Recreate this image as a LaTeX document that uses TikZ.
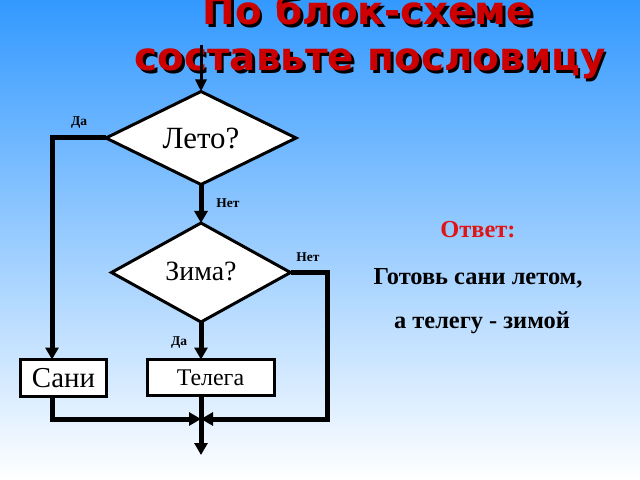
\documentclass[tikz,border=0pt]{standalone}
\usepackage{fontspec}
\setmainfont{Liberation Serif}
\newfontfamily\titlefont{DejaVu Sans}
\usetikzlibrary{shapes.geometric,arrows.meta}
\definecolor{bgtop}{RGB}{51,153,255}
\definecolor{titlered}{RGB}{204,0,0}
\definecolor{ansred}{RGB}{225,20,20}
\begin{document}
\begin{tikzpicture}[x=1bp,y=-1bp,
  decision/.style={diamond,draw=black,fill=white,line width=3bp,aspect=2,inner sep=0pt,outer sep=0pt},
  block/.style={rectangle,draw=black,fill=white,line width=3bp,inner sep=0pt,outer sep=0pt},
  flow/.style={line width=5bp,-{Triangle[length=12bp,width=13bp]}},
  thinflow/.style={line width=3bp,-{Triangle[length=12bp,width=11bp]}},
  lbl/.style={font=\fontsize{13.5}{13.5}\selectfont\bfseries,inner sep=0pt},
  ttl/.style={font=\titlefont\bfseries\fontsize{39}{39}\selectfont,anchor=base,inner sep=0pt},
  ans/.style={font=\fontsize{24.5}{24.5}\selectfont\bfseries,anchor=base,inner sep=0pt}
]
\clip (0,0) rectangle (640,480);
\shade[top color=bgtop,bottom color=white] (0,0) rectangle (640,480);
\useasboundingbox (0,0) rectangle (640,480);

% title with shadow
\node[ttl,text=black] (t1s) at (370.5,27.5) {По блок-схеме};
\node[ttl,text=titlered] (t1) at (368,25) {По блок-схеме};
\node[ttl,text=black] (t2s) at (372.5,73.5) {составьте пословицу};
\node[ttl,text=titlered] (t2) at (370,71) {составьте пословицу};

% nodes
\node[decision,minimum width=190bp,minimum height=93bp,font=\fontsize{31}{31}\selectfont] (leto) at (201,138) {\raisebox{-1bp}{Лето?}};
\node[decision,minimum width=179bp,minimum height=99bp,font=\fontsize{28}{28}\selectfont] (zima) at (201,272.5) {\raisebox{3bp}{Зима?}};
\node[block,minimum width=85bp,minimum height=37bp,font=\fontsize{29}{29}\selectfont] (sani) at (63.5,378) {\raisebox{-4.5bp}{Сани}};
\node[block,minimum width=127bp,minimum height=36bp,font=\fontsize{24}{24}\selectfont] (telega) at (210.5,377.5) {\raisebox{-3bp}{Телега}};

% labels
\node[lbl] (da1) at (79,123) {Да};
\node[lbl] (net1) at (228,203) {Нет};
\node[lbl] (net2) at (308,257) {Нет};
\node[lbl] (da2) at (179,343) {Да};

% connectors
\coordinate (start) at (201,45);
\coordinate (c1) at (52,138);
\coordinate (c2) at (327,272.5);
\coordinate (m) at (201,419);
\coordinate (fin) at (201,455);
\draw[thinflow] (start) -- (leto.north);
\draw[flow] (leto.west) -- (c1) -- (c1 |- sani.north);
\draw[flow] (leto.south) -- (zima.north);
\draw[flow] (zima.south) -- (zima.south |- telega.north);
\draw[flow] (zima.east) -- (c2) -- (c2 |- m) -- (m);
\draw[flow] (c1 |- sani.south) -- (c1 |- m) -- (m);
\draw[flow] (zima.south |- telega.south) -- (fin);

% answer
\node[ans,text=ansred] (otvet) at (478,238) {Ответ:};
\node[ans] (a1) at (478,284) {Готовь сани летом,};
\node[ans] (a2) at (482,328) {а телегу - зимой};
\end{tikzpicture}
\end{document}
